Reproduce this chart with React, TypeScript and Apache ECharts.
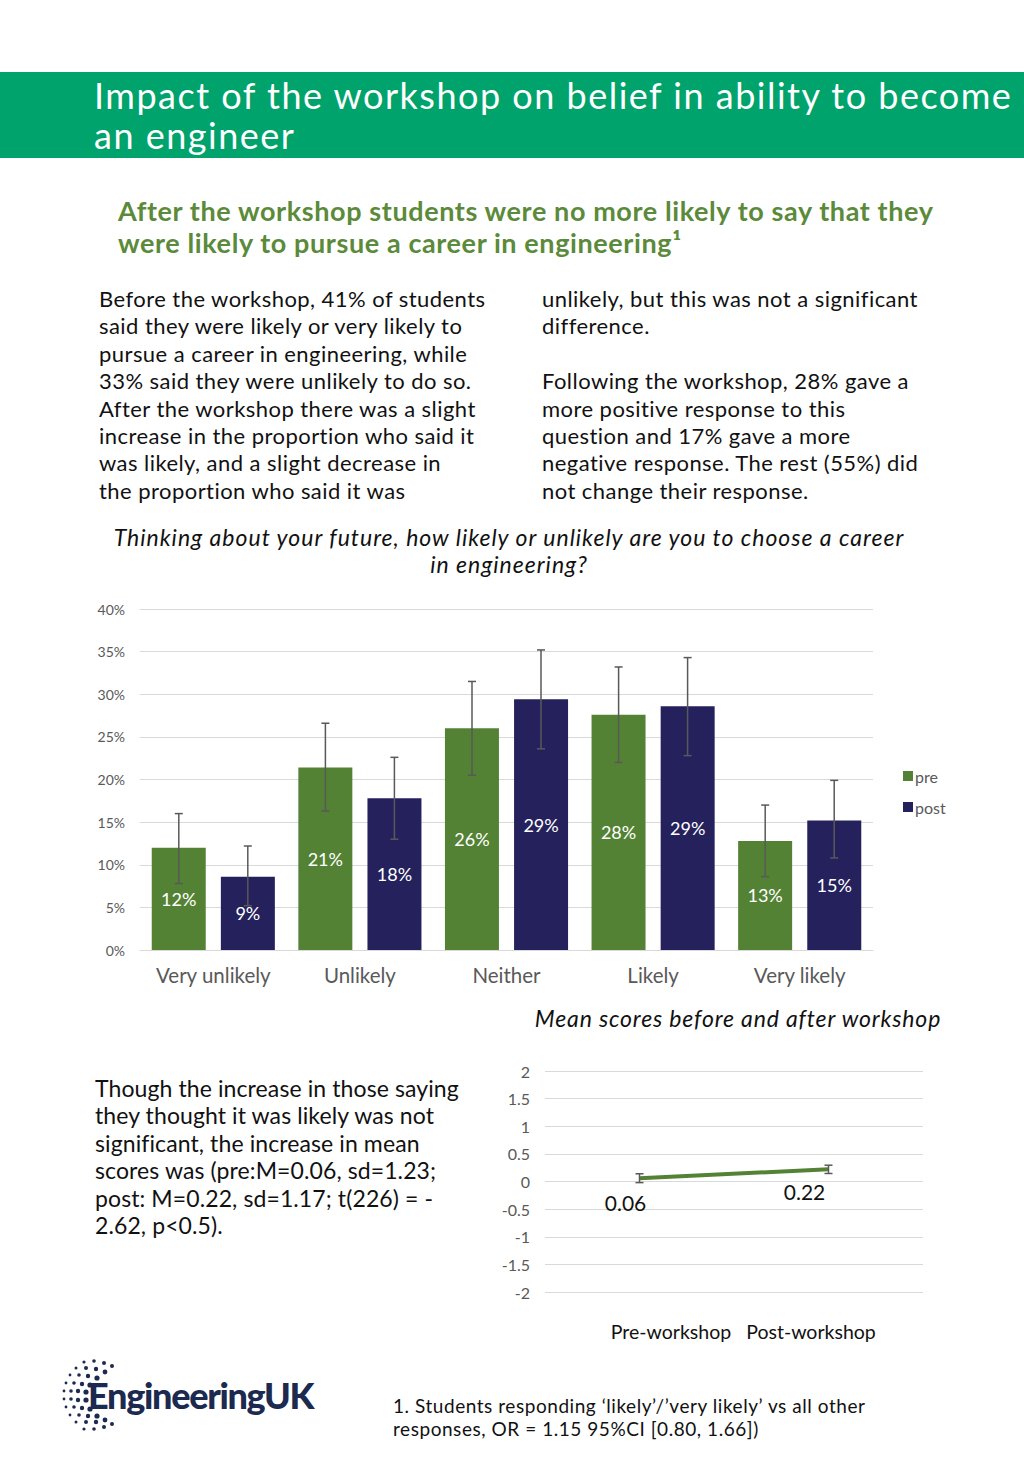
import React, { useEffect, useRef } from "react";
import * as echarts from "echarts";

// ---- Bar chart data ----
const categories = ["Very unlikely", "Unlikely", "Neither", "Likely", "Very likely"];
const preValues = [12.0, 21.4, 26.0, 27.6, 12.8];
const postValues = [8.6, 17.8, 29.4, 28.6, 15.2];
const preErrLow = [7.8, 16.3, 20.5, 22.0, 8.6];
const preErrHigh = [16.0, 26.6, 31.5, 33.2, 17.0];
const postErrLow = [5.2, 13.0, 23.6, 22.8, 10.8];
const postErrHigh = [12.2, 22.6, 35.2, 34.3, 19.9];
const seriesNames = ["pre", "post"];

// ---- Mean score data ----
const meanCategories = ["Pre-workshop", "Post-workshop"];
const meanValues = [0.06, 0.22];
const meanErrLow = [-0.02, 0.145];
const meanErrHigh = [0.14, 0.295];

const GREEN = "#548235";
const NAVY = "#25215c";
const GRAY = "#595959";
const FONT = "Lato, 'Noto Sans', sans-serif";

function errorBars(low: number[], high: number[], dx: number, cap: number) {
  return {
    type: "custom",
    silent: true,
    z: 10,
    data: low.map((l, i) => [i, l, high[i]]),
    encode: { x: 0, y: [1, 2] },
    renderItem: (_p: any, api: any) => {
      const i = api.value(0);
      const lo = api.coord([i, api.value(1)]);
      const hi = api.coord([i, api.value(2)]);
      const x = lo[0] + dx;
      const style = { stroke: GRAY, lineWidth: 1.5 };
      return {
        type: "group",
        children: [
          { type: "line", shape: { x1: x, y1: hi[1], x2: x, y2: lo[1] }, style },
          { type: "line", shape: { x1: x - cap, y1: hi[1], x2: x + cap, y2: hi[1] }, style },
          { type: "line", shape: { x1: x - cap, y1: lo[1], x2: x + cap, y2: lo[1] }, style },
        ],
      };
    },
  };
}

function BarChart() {
  const ref = useRef<HTMLDivElement>(null);
  useEffect(() => {
    const chart = echarts.init(ref.current!, null, { renderer: "svg" });
    const barLabel = {
      show: true,
      position: "inside",
      color: "#ffffff",
      fontSize: 18,
      fontFamily: FONT,
      formatter: (p: any) => Math.round(p.value) + "%",
    };
    chart.setOption({
      animation: false,
      textStyle: { fontFamily: FONT },
      legend: {
        data: seriesNames,
        orient: "vertical",
        left: 898,
        top: 173,
        icon: "rect",
        itemWidth: 10,
        itemHeight: 10,
        itemGap: 15,
        textStyle: { color: GRAY, fontSize: 16, fontFamily: FONT, padding: [0, 0, 0, -3] },
      },
      grid: { left: 140, right: 151, top: 19, bottom: 50 },
      xAxis: {
        type: "category",
        data: categories,
        axisLine: { show: true, lineStyle: { color: "#d9d9d9" } },
        axisTick: { show: false },
        axisLabel: { color: GRAY, fontSize: 20.5, margin: 14, fontFamily: FONT, interval: 0, hideOverlap: false },
      },
      yAxis: {
        type: "value",
        min: 0,
        max: 40,
        interval: 5,
        axisLabel: { formatter: "{value}%", color: GRAY, fontSize: 14, margin: 15, fontFamily: FONT },
        splitLine: { lineStyle: { color: "#d9d9d9", width: 1 } },
        axisLine: { show: false },
        axisTick: { show: false },
      },
      series: [
        {
          name: seriesNames[0],
          type: "bar",
          data: preValues,
          barWidth: 54,
          barGap: "28%",
          itemStyle: { color: GREEN },
          label: barLabel,
        },
        {
          name: seriesNames[1],
          type: "bar",
          data: postValues,
          barWidth: 54,
          barGap: "28%",
          itemStyle: { color: NAVY },
          label: barLabel,
        },
        errorBars(preErrLow, preErrHigh, -34.5, 4),
        errorBars(postErrLow, postErrHigh, 34.5, 4),
      ],
    });
    return () => chart.dispose();
  }, []);
  return <div ref={ref} style={{ position: "absolute", left: 0, top: 590, width: 1024, height: 410 }} />;
}

function MeanChart() {
  const ref = useRef<HTMLDivElement>(null);
  useEffect(() => {
    const chart = echarts.init(ref.current!, null, { renderer: "svg" });
    chart.setOption({
      animation: false,
      textStyle: { fontFamily: FONT },
      grid: { left: 55, right: 101, top: 31, bottom: 78 },
      xAxis: {
        type: "category",
        data: meanCategories,
        axisLine: { show: false },
        axisTick: { show: false },
        axisLabel: {
          margin: 29,
          interval: 0,
          formatter: (v: string, i: number) => (i === 0 ? "{a|" + v + "}" : "{b|" + v + "}"),
          rich: {
            a: { color: "#111", fontSize: 19.5, fontFamily: FONT, padding: [0, 0, 0, 63] },
            b: { color: "#111", fontSize: 19.5, fontFamily: FONT, padding: [0, 35, 0, 0] },
          },
        },
      },
      yAxis: {
        type: "value",
        min: -2,
        max: 2,
        interval: 0.5,
        axisLabel: { color: GRAY, fontSize: 16, margin: 15, fontFamily: FONT },
        splitLine: { lineStyle: { color: "#d9d9d9", width: 1 } },
        axisLine: { show: false },
        axisTick: { show: false },
      },
      series: [
        {
          type: "line",
          data: meanValues.map((v, i) => ({
            value: v,
            label: { offset: i === 0 ? [-14, 8] : [-24, 6] },
          })),
          symbol: "circle",
          symbolSize: 1,
          showSymbol: true,
          lineStyle: { color: GREEN, width: 4 },
          itemStyle: { color: GREEN },
          label: {
            show: true,
            position: "bottom",
            color: "#111",
            fontSize: 21,
            fontFamily: FONT,
            formatter: (p: any) => Number(p.value).toFixed(2),
          },
          z: 5,
        },
        errorBars(meanErrLow, meanErrHigh, 0, 4),
      ],
    });
    return () => chart.dispose();
  }, []);
  return <div ref={ref} style={{ position: "absolute", left: 490, top: 1040, width: 534, height: 330 }} />;
}

const logoDots: [number, number, number][] = [
  [84, 1362, 1.6], [94, 1361, 1.8], [104, 1363, 2], [112, 1366, 2],
  [76, 1368, 1.5], [86, 1368, 2], [96, 1369, 2.2], [105, 1372, 2.4],
  [70, 1375, 1.4], [79, 1375, 1.8], [88, 1376, 2.2], [97, 1378, 2.6],
  [66, 1383, 1.4], [74, 1383, 1.8], [82, 1384, 2.2], [90, 1385, 2.6],
  [64, 1391, 1.4], [71, 1391, 1.8], [78, 1391, 2.2], [86, 1392, 2.6],
  [64, 1399, 1.4], [71, 1399, 1.8], [78, 1400, 2.2], [86, 1400, 2.6],
  [66, 1407, 1.4], [74, 1407, 1.8], [82, 1408, 2.2], [90, 1409, 2.6],
  [70, 1415, 1.4], [79, 1415, 1.8], [88, 1416, 2.2], [97, 1416, 2.6],
  [76, 1422, 1.5], [86, 1422, 2], [96, 1422, 2.2], [105, 1420, 2.4],
  [84, 1429, 1.6], [94, 1429, 1.8], [104, 1427, 2], [112, 1424, 2],
];

export default function App() {
  useEffect(() => {
    document.body.style.margin = "0";
  }, []);
  const body: React.CSSProperties = {
    position: "absolute",
    fontFamily: FONT,
    fontSize: 22,
    lineHeight: "27.4px",
    letterSpacing: 0.45,
    color: "#111",
    whiteSpace: "nowrap",
  };
  return (
    <div style={{ position: "absolute", left: 0, top: 0, width: 1024, height: 1479, background: "#fff", overflow: "hidden" }}>
      <div style={{ position: "absolute", left: 0, top: 72, width: 1024, height: 86, background: "#00a36b" }} />
      <div style={{ ...body, left: 94, top: 75, fontSize: 36, lineHeight: "40px", letterSpacing: 1.5, color: "#fff" }}>
        Impact of the workshop on belief in ability to become
      </div>
      <div style={{ ...body, left: 94, top: 115, fontSize: 36, lineHeight: "40px", letterSpacing: 1.5, color: "#fff" }}>
        an engineer
      </div>
      <div style={{ ...body, left: 118, top: 195, fontSize: 27, lineHeight: "32px", letterSpacing: 0.6, fontWeight: 700, color: "#5b8a3a" }}>
        After the workshop students were no more likely to say that they
        <br />
        were likely to pursue a career in engineering¹
      </div>
      <div style={{ ...body, left: 99, top: 285 }}>
        Before the workshop, 41% of students<br />
        said they were likely or very likely to<br />
        pursue a career in engineering, while<br />
        33% said they were unlikely to do so.<br />
        After the workshop there was a slight<br />
        increase in the proportion who said it<br />
        was likely, and a slight decrease in<br />
        the proportion who said it was
      </div>
      <div style={{ ...body, left: 542, top: 285 }}>
        unlikely, but this was not a significant<br />
        difference.<br />
        <br />
        Following the workshop, 28% gave a<br />
        more positive response to this<br />
        question and 17% gave a more<br />
        negative response. The rest (55%) did<br />
        not change their response.
      </div>
      <div style={{ ...body, left: 0, width: 1018, top: 524, fontSize: 23, lineHeight: "27px", letterSpacing: 1.0, fontStyle: "italic", textAlign: "center" }}>
        Thinking about your future, how likely or unlikely are you to choose a career
        <br />
        in engineering?
      </div>
      <BarChart />
      <div style={{ ...body, left: 438, width: 600, top: 1004, fontSize: 23, lineHeight: "28px", letterSpacing: 0.85, fontStyle: "italic", textAlign: "center" }}>
        Mean scores before and after workshop
      </div>
      <MeanChart />
      <div style={{ ...body, left: 95, top: 1075, fontSize: 23, lineHeight: "27.4px", letterSpacing: 0.1 }}>
        Though the increase in those saying<br />
        they thought it was likely was not<br />
        significant, the increase in mean<br />
        scores was (pre:M=0.06, sd=1.23;<br />
        post: M=0.22, sd=1.17; t(226) = -<br />
        2.62, p&lt;0.5).
      </div>
      <svg style={{ position: "absolute", left: 0, top: 0 }} width={1024} height={1479}>
        {logoDots.map(([x, y, r], i) => (
          <circle key={i} cx={x} cy={y} r={r} fill="#1b2a4e" />
        ))}
      </svg>
      <div style={{ ...body, left: 88, top: 1372, fontSize: 36, lineHeight: "46px", fontWeight: 900, color: "#1b2a4e", letterSpacing: -1.3 }}>
        EngineeringUK
      </div>
      <div style={{ ...body, left: 393, top: 1394, fontSize: 19, lineHeight: "23px", letterSpacing: 0.55 }}>
        1. Students responding ‘likely’/’very likely’ vs all other<br />
        responses, OR = 1.15 95%CI [0.80, 1.66])
      </div>
    </div>
  );
}
